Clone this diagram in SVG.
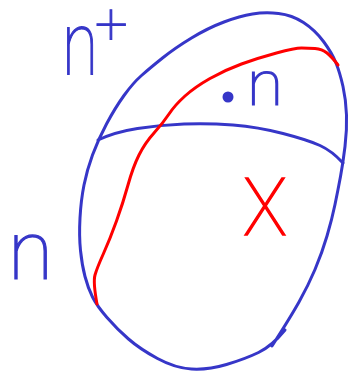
<svg xmlns="http://www.w3.org/2000/svg" width="350" height="376" viewBox="0 0 350 376">
<style>
.blue{fill:none;stroke:#3636c8;stroke-width:3;stroke-linecap:round;stroke-linejoin:round}
.red{fill:none;stroke:#f00;stroke-width:3;stroke-linecap:round;stroke-linejoin:round}
.lbl{font-family:Roboto,"Liberation Sans",sans-serif;font-weight:100;fill:#3636c8;stroke:#3636c8;stroke-width:1.2}
</style>
<rect width="350" height="376" fill="#fff"/>
<g id="region">
<path class="blue" d="M272,346 Q290,318 299,302 Q308,286 315,269.5 Q322,253 327,236 Q332,219 335,204.5 Q338,190 340.5,176.5 Q343,163 345,146.5 Q347,130 346.5,115 Q346,100 343,86.5 Q340,73 336,63 Q332,53 323.5,41.5 Q315,30 303.5,22.5 Q292,15 278.5,13.5 Q265,12 252.5,14 Q240,16 224,22 Q208,28 191.5,38 Q175,48 162.5,58 Q150,68 141.5,75.5 Q133,83 124,95.5 Q115,108 106.5,124 Q98,140 92.5,155 Q87,170 84,185 Q81,200 80,218 Q79,236 80.5,250.5 Q82,265 85,276.5 Q88,288 92.5,297 Q97,306 107,317.5 Q117,329 128.5,339 Q140,349 157.5,358.5 Q175,368 191.5,369 Q208,370 226.5,364.5 Q245,359 258.5,352.5 Q272,346 285,330"/>
</g>
<g id="divider">
<path class="blue" d="M98,140 Q115,132 137.5,128.5 Q160,125 184,124 Q208,123 233,125 Q258,127 283,133.5 Q308,140 320,145.5 Q332,151 343,163"/>
</g>
<g id="red-curve">
<path class="red" d="M97,304 Q93,282 95,275 Q97,268 103.5,253.5 Q110,239 116.5,221 Q123,203 128,185 Q133,167 139,155 Q145,143 154,133 Q163,123 169,114 Q175,105 185,96 Q195,87 210,78.5 Q225,70 241.5,64 Q258,58 276.5,53 Q295,48 301.5,48 Q308,48 315,48.5 Q322,49 327,53 Q332,57 338,65"/>
</g>
<g id="label-nplus">
<text class="lbl" y="75"><tspan x="62" font-size="89" textLength="36" lengthAdjust="spacingAndGlyphs">n</tspan><tspan x="95" y="44" font-size="58">+</tspan></text>
</g>
<g id="label-n-left">
<text class="lbl" x="8" y="279" font-size="82" textLength="45" lengthAdjust="spacingAndGlyphs">n</text>
</g>
<g id="point-n">
<circle cx="228" cy="97" r="5.5" fill="#3636c8"/>
<text class="lbl" x="247" y="105" font-size="63" textLength="36" lengthAdjust="spacingAndGlyphs">n</text>
</g>
<g id="label-x">
<text x="243" y="235" font-family="Roboto,'Liberation Sans',sans-serif" font-weight="100" font-size="80" fill="#f00" stroke="#f00" stroke-width="1.5" textLength="44" lengthAdjust="spacingAndGlyphs">X</text>
</g>
</svg>
